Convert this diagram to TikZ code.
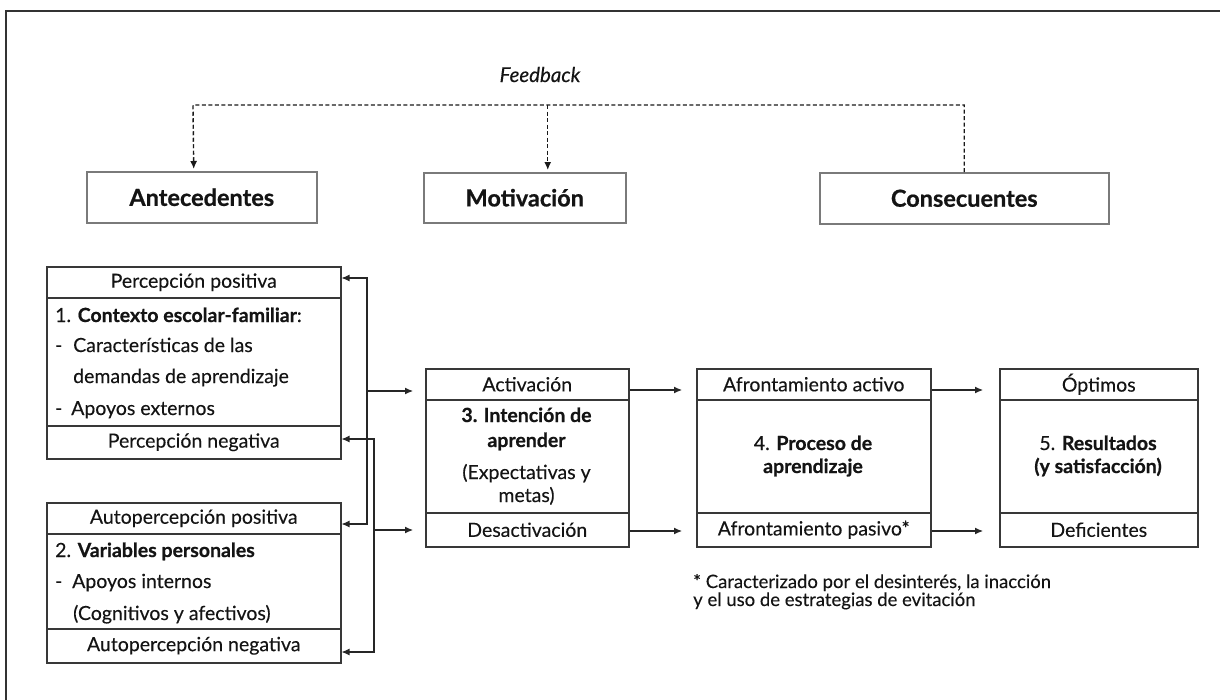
\documentclass[tikz,border=0pt]{standalone}
\usepackage{fontspec}
\setmainfont{Lato}[UprightFeatures={FakeBold=0.2},ItalicFeatures={FakeBold=0.3},BoldFeatures={FakeBold=0.7}]
\usetikzlibrary{arrows.meta}
\definecolor{boxc}{HTML}{383838}
\definecolor{headc}{HTML}{7A7A7A}
\definecolor{txt}{HTML}{141414}
\begin{document}
\begin{tikzpicture}[x=1pt,y=-1pt,
  every node/.style={text=txt},
  row/.style={draw=boxc, line width=1.5pt, inner sep=0pt, anchor=north west, font=\fontsize{19.5}{22}\selectfont},
  head/.style={draw=headc, line width=1.5pt, inner sep=0pt, anchor=north west, font=\fontsize{23.5}{26}\selectfont\bfseries},
  ln/.style={inner sep=0pt, font=\fontsize{19.5}{22}\selectfont},
  note/.style={inner sep=0pt, anchor=base west, font=\fontsize{18.5}{20}\selectfont},
  conn/.style={draw=black!85, line width=1.1pt},
  tip/.style={-{Latex[length=8pt,width=7pt]}},
  tips/.style={{Latex[length=8pt,width=7pt]}-{Latex[length=8pt,width=7pt]}},
  fb/.style={draw=black!90, line width=1.4pt, dash pattern=on 4pt off 2.5pt},
]
\useasboundingbox (0,0) rectangle (1220,699);
\clip (0,0) rectangle (1220,699);
\draw[line width=1.6pt, draw=black!80] (6,11) rectangle (1240,720);

% headings
\node[head, minimum width=230, minimum height=51] (ant) at (86,171) {Antecedentes};
\node[head, minimum width=202, minimum height=50] (mot) at (423,172) {Motivación};
\node[head, minimum width=289, minimum height=51] (cons) at (819,172) {Consecuentes};

% feedback
\node[anchor=base, inner sep=0pt, font=\fontsize{20.5}{22}\selectfont\itshape] (fbt) at (540,82) {Feedback};
\coordinate (fbL) at (193,105);
\coordinate (mtop) at ([xshift=23pt]mot.north);
\draw[fb, tip, shorten >=2pt] (cons.north) |- (fbL) -- ([xshift=-8pt]ant.north);
\draw[fb, tip, shorten >=2pt] (fbL -| mtop) -- (mtop);

% box 1
\node[row, minimum width=294, minimum height=31] (b1t) at (46,266) {Percepción positiva};
\node[row, minimum width=294, minimum height=128] (b1m) at (46,297) {};
\node[row, minimum width=294, minimum height=33] (b1b) at (46,425) {Percepción negativa};
\node[ln, anchor=base west] (l11) at (55,322) {1. \textbf{Contexto escolar-familiar}:};
\node[ln, anchor=base west] (l12) at (55,352) {\makebox[18pt][l]{-}Características de las};
\node[ln, anchor=base west] (l13) at (73,383) {demandas de aprendizaje};
\node[ln, anchor=base west] (l14) at (55,415) {\makebox[16pt][l]{-}Apoyos externos};

% box 2
\node[row, minimum width=294, minimum height=31] (b2t) at (46,502) {Autopercepción positiva};
\node[row, minimum width=294, minimum height=95] (b2m) at (46,533) {};
\node[row, minimum width=294, minimum height=34] (b2b) at (46,628) {Autopercepción negativa};
\node[ln, anchor=base west] (l21) at (55,557) {2. \textbf{Variables personales}};
\node[ln, anchor=base west] (l22) at (55,588) {\makebox[17pt][l]{-}Apoyos internos};
\node[ln, anchor=base west] (l23) at (73,620) {(Cognitivos y afectivos)};

% box 3
\node[row, minimum width=203, minimum height=31] (b3t) at (425,368) {Activación};
\node[row, minimum width=203, minimum height=113] (b3m) at (425,399) {};
\node[row, minimum width=203, minimum height=34] (b3b) at (425,512) {Desactivación};
\node[ln, anchor=base] (l31) at (526.5,422) {\textbf{3. Intención de}};
\node[ln, anchor=base] (l32) at (526.5,447) {\textbf{aprender}};
\node[ln, anchor=base] (l33) at (526.5,479) {(Expectativas y};
\node[ln, anchor=base] (l34) at (526.5,502) {metas)};

% box 4
\node[row, minimum width=234, minimum height=31] (b4t) at (696,368) {Afrontamiento activo};
\node[row, minimum width=234, minimum height=113] (b4m) at (696,399) {};
\node[row, minimum width=234, minimum height=34] (b4b) at (696,512) {Afrontamiento pasivo*};
\node[ln, anchor=base] (l41) at (813,450) {4. \textbf{Proceso de}};
\node[ln, anchor=base] (l42) at (813,473) {\textbf{aprendizaje}};

% box 5
\node[row, minimum width=198, minimum height=31] (b5t) at (999,368) {Óptimos};
\node[row, minimum width=198, minimum height=113] (b5m) at (999,399) {};
\node[row, minimum width=198, minimum height=34] (b5b) at (999,512) {Deficientes};
\node[ln, anchor=base] (l51) at (1098,450) {5. \textbf{Resultados}};
\node[ln, anchor=base] (l52) at (1098,473) {\textbf{(y satisfacción)}};

% left connectors
\coordinate (j1) at (367,278);
\coordinate (j2) at (367,524);
\coordinate (k1) at (374,439);
\coordinate (k2) at (374,652);
\coordinate (aA) at (413,391);
\coordinate (aD) at (413,530);
\draw[conn, tips] (b1t.east |- j1) -- (j1) -- (j2) -- (b2t.east |- j2);
\draw[conn, tips] (b1b.east |- k1) -- (k1) -- (k2) -- (b2b.east |- k2);
\draw[conn, tip] (j1 |- aA) -- (aA);
\draw[conn, tip] (k1 |- aD) -- (aD);

% right connectors
\coordinate (yA) at (0,390);
\coordinate (yD) at (0,531);
\draw[conn, tip] (b3t.east |- yA) -- ([xshift=-14pt]b4t.west |- yA);
\draw[conn, tip] (b3b.east |- yD) -- ([xshift=-14pt]b4b.west |- yD);
\draw[conn, tip] (b4t.east |- yA) -- ([xshift=-16pt]b5t.west |- yA);
\draw[conn, tip] (b4b.east |- yD) -- ([xshift=-16pt]b5b.west |- yD);

% footnote
\node[note] (n1) at (693,588) {* Caracterizado por el desinterés, la inacción};
\node[note] (n2) at (693,606) {y el uso de estrategias de evitación};
\end{tikzpicture}
\end{document}
